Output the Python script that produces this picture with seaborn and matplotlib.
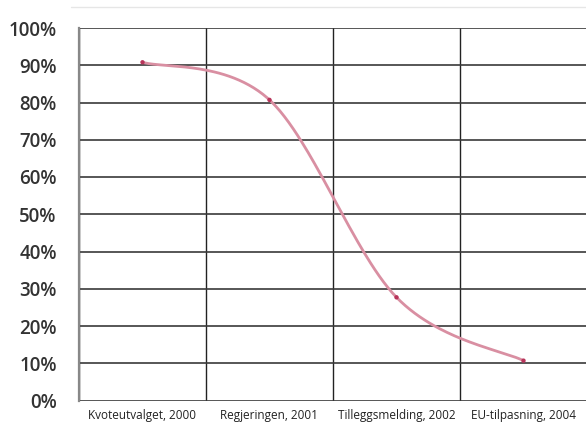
import numpy as np
import pandas as pd
import matplotlib
matplotlib.use("Agg")
import matplotlib.pyplot as plt
from matplotlib.lines import Line2D
import seaborn as sns

categories = ["Kvoteutvalget, 2000", "Regjeringen, 2001",
              "Tilleggsmelding, 2002", "EU-tilpasning, 2004"]
values = [90.8, 80.7, 27.7, 10.7]
ytick_labels = ["0%", "10%", "20%", "30%", "40%", "50%",
                "60%", "70%", "80%", "90%", "100%"]

sns.set_theme(style="white")
plt.rcParams["font.family"] = ["Open Sans", "DejaVu Sans"]

df = pd.DataFrame({"kategori": categories, "andel": values,
                   "pos": np.arange(len(categories), dtype=float)})


def smooth(x, y, n=60):
    """Catmull-Rom style Bezier smoothing through the given points."""
    px = np.concatenate([[x[0]], x, [x[-1]]])
    py = np.concatenate([[y[0]], y, [y[-1]]])
    xs, ys = [], []
    t = np.linspace(0, 1, n)
    for i in range(1, len(px) - 2):
        p0 = np.array([px[i], py[i]])
        p1 = np.array([px[i + 1], py[i + 1]])
        c0 = p0 + (np.array([px[i + 1], py[i + 1]]) - np.array([px[i - 1], py[i - 1]])) / 6
        c1 = p1 - (np.array([px[i + 2], py[i + 2]]) - np.array([px[i], py[i]])) / 6
        b = ((1 - t) ** 3)[:, None] * p0 + (3 * (1 - t) ** 2 * t)[:, None] * c0 \
            + (3 * (1 - t) * t ** 2)[:, None] * c1 + (t ** 3)[:, None] * p1
        xs.append(b[:, 0]); ys.append(b[:, 1])
    return np.concatenate(xs), np.concatenate(ys)


fig = plt.figure(figsize=(5.86, 4.26), dpi=100)
ax = fig.add_axes([79 / 586, 25.5 / 426, 508 / 586, 372.5 / 426])

sx, sy = smooth(df["pos"].values, df["andel"].values)
curve = pd.DataFrame({"x": sx, "y": sy})
sns.lineplot(data=curve, x="x", y="y", ax=ax, color="#d98fa2",
             linewidth=2.0, sort=False, zorder=3)
sns.scatterplot(data=df, x="pos", y="andel", ax=ax, color="#b8345a",
                s=10, edgecolor="none", zorder=4)

ax.set_xlim(-0.5, 3.5)
ax.set_ylim(0, 100)
ax.set_xlabel("")
ax.set_ylabel("")

# category labels centred in each column, column borders as minor grid
ax.set_xticks(df["pos"])
ax.set_xticklabels(categories, fontsize=8.5, color="#222222")
ax.set_xticks(np.arange(-0.5, 4.0, 1.0), minor=True)
ax.tick_params(axis="x", which="major", length=0, pad=6)
ax.tick_params(axis="x", which="minor", length=7, width=1.0,
               color="#222222", direction="out")

ax.set_yticks(np.arange(0, 101, 10))
ax.set_yticklabels(ytick_labels, fontsize=13.5, fontweight="semibold",
                   color="#333333")
ax.tick_params(axis="y", length=7, width=1.2, color="#333333", pad=9)

ax.grid(axis="y", which="major", color="#3a3a3a", linewidth=1.2)
ax.grid(axis="x", which="minor", color="#222222", linewidth=1.0)
ax.grid(axis="x", which="major", visible=False)
ax.set_axisbelow(True)

for side in ["top", "right", "bottom"]:
    ax.spines[side].set_visible(False)
ax.spines["left"].set_color("#888888")
ax.spines["left"].set_linewidth(1.6)
ax.spines["left"].set_bounds(0, 100)

# faint rule above the plot
fig.add_artist(Line2D([71 / 586, 1.0], [1 - 7 / 426, 1 - 7 / 426],
                      transform=fig.transFigure, color="#e6e6e6",
                      linewidth=1.0))

fig.savefig("out.png", dpi=100)
